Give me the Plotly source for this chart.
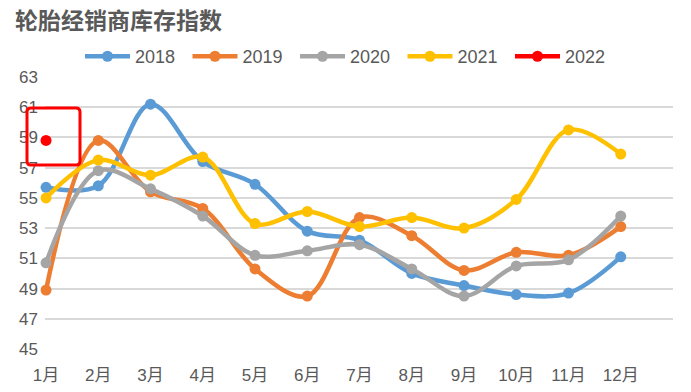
import plotly.graph_objects as go

months = ["1月", "2月", "3月", "4月", "5月", "6月", "7月", "8月", "9月", "10月", "11月", "12月"]
s2018 = [55.7, 55.8, 61.2, 57.4, 55.9, 52.8, 52.2, 50.0, 49.2, 48.6, 48.7, 51.1]
s2019 = [48.9, 58.8, 55.4, 54.3, 50.3, 48.5, 53.7, 52.5, 50.2, 51.4, 51.2, 53.1]
s2020 = [50.7, 56.8, 55.6, 53.8, 51.2, 51.5, 51.9, 50.3, 48.5, 50.5, 50.9, 53.8]
s2021 = [55.0, 57.5, 56.5, 57.7, 53.3, 54.1, 53.1, 53.7, 53.0, 54.9, 59.5, 57.9]
s2022 = [58.8]
y_ticks = [45, 47, 49, 51, 53, 55, 57, 59, 61, 63]

series = [
    ("2018", s2018, "#5B9BD5"),
    ("2019", s2019, "#ED7D31"),
    ("2020", s2020, "#A5A5A5"),
    ("2021", s2021, "#FFC000"),
]

FONT = "Liberation Sans, Noto Sans CJK SC, sans-serif"
TXT = "#595959"

fig = go.Figure()
for name, vals, col in series:
    fig.add_trace(go.Scatter(
        x=list(range(len(vals))), y=vals, name=name, mode="lines+markers",
        line=dict(color=col, width=4.5, shape="spline", smoothing=1.0),
        marker=dict(color=col, size=11),
        cliponaxis=False,
    ))
fig.add_trace(go.Scatter(
    x=list(range(len(s2022))), y=s2022, name="2022", mode="lines+markers",
    line=dict(color="#FF0000", width=4.5),
    marker=dict(color="#FF0000", size=11),
    cliponaxis=False,
))

W, H = 691, 392
ml, mr, mt, mb = 45, 18, 77, 42.5
pw = W - ml - mr
ph = H - mt - mb

def px_x(px):
    return (px - ml) / pw

def px_y(py):
    return (H - mb - py) / ph

# highlight box (rounded rectangle) around the 2022 point, in pixels around an anchor
L, R, B, T, r = -19, 34, -24, 33, 4
box_path = (f"M {L + r},{B} L {R - r},{B} Q {R},{B} {R},{B + r} "
            f"L {R},{T - r} Q {R},{T} {R - r},{T} L {L + r},{T} Q {L},{T} {L},{T - r} "
            f"L {L},{B + r} Q {L},{B} {L + r},{B} Z")
fig.add_shape(type="path", xref="paper", yref="paper",
              xsizemode="pixel", ysizemode="pixel",
              xanchor=px_x(46), yanchor=px_y(141),
              path=box_path,
              line=dict(color="#FF0000", width=3), fillcolor="rgba(0,0,0,0)")

fig.update_layout(
    width=W, height=H,
    margin=dict(l=ml, r=mr, t=mt, b=mb, autoexpand=False),
    paper_bgcolor="white", plot_bgcolor="white",
    font=dict(family=FONT, size=17, color=TXT),
    title=dict(text="<b>轮胎经销商库存指数</b>", x=15 / W, xanchor="left", xref="container",
               y=1 - 21 / H, yanchor="middle", yref="container",
               font=dict(family="Noto Sans CJK SC, sans-serif", size=23, color=TXT)),
    showlegend=True,
    legend=dict(orientation="h", x=px_x(80), xanchor="left", y=px_y(56.5), yanchor="middle",
                font=dict(size=18, color=TXT), entrywidth=47.5, entrywidthmode="pixels",
                itemwidth=45, bgcolor="rgba(0,0,0,0)", traceorder="normal"),
    xaxis=dict(range=[-0.02, 12.0], tickmode="array", tickvals=list(range(12)), ticktext=months,
               showgrid=False, zeroline=False, showline=False, ticks="",
               ticklabelstandoff=14,
               tickfont=dict(size=17, color=TXT), fixedrange=True),
    yaxis=dict(range=[45, 63], tickmode="array", tickvals=y_ticks, ticktext=[str(v) for v in y_ticks],
               showgrid=True, gridcolor="#D9D9D9", gridwidth=1.5, zeroline=False, showline=False,
               ticks="", ticklabelstandoff=6, tickfont=dict(size=17, color=TXT), fixedrange=True),
)

fig.write_html("out.html", config={"displayModeBar": False},
               post_script="document.body.style.margin='0';")
